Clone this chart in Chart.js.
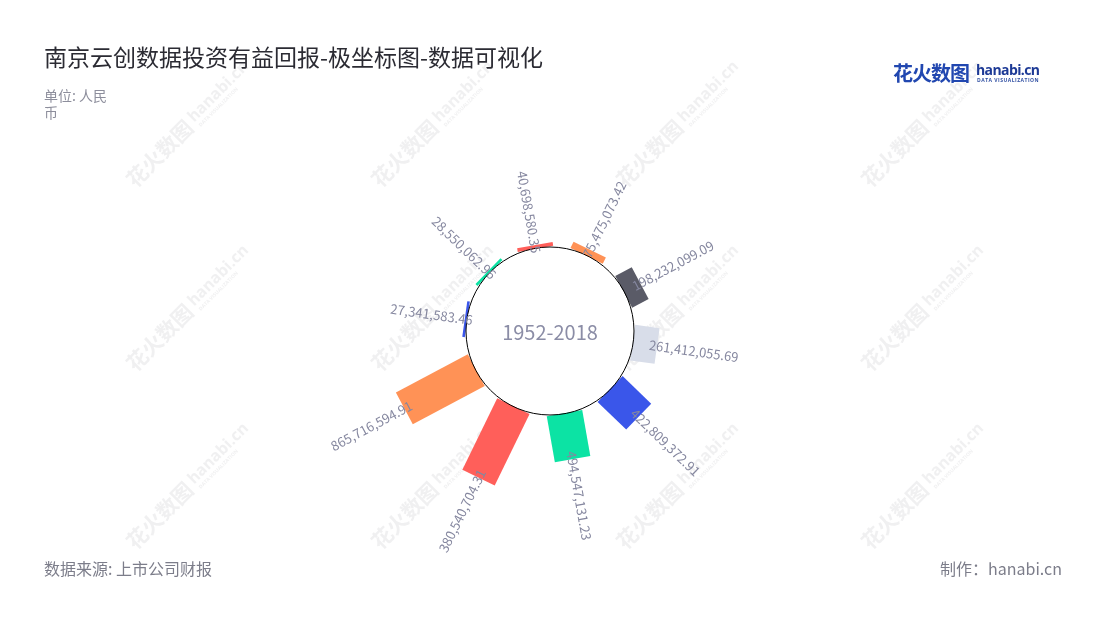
<!DOCTYPE html>
<html lang="zh-CN">
<head>
<meta charset="utf-8">
<title>南京云创数据投资有益回报-极坐标图-数据可视化</title>
<script src="https://cdn.jsdelivr.net/npm/chart.js@4.4.1/dist/chart.umd.min.js"></script>
<style>
  html, body { margin: 0; padding: 0; background: #fff; }
  body {
    width: 1100px; height: 620px; position: relative; overflow: hidden;
    font-family: "Noto Sans CJK SC", "Noto Sans", sans-serif;
  }
  #chart { position: absolute; left: 0; top: 0; }
  .title { position: absolute; left: 44px; top: 39px; font-size: 23px; color: #2b2b33; white-space: nowrap; }
  .unit { position: absolute; left: 44px; top: 87px; font-size: 14px; line-height: 17px; color: #8d8e9c; }
  .source { position: absolute; left: 44px; top: 556px; font-size: 16px; color: #7c7d8a; }
  .maker { position: absolute; right: 38px; top: 556px; font-size: 16px; color: #7c7d8a; }
  .logo { position: absolute; left: 893px; top: 58px; height: 30px; white-space: nowrap; }
  .logo .cn { position: absolute; left: 0; top: 0; font-size: 20px; font-weight: 700; color: #2147b0; letter-spacing: -1px; }
  .logo .en { position: absolute; left: 83px; top: 2px; font-family: "Open Sans", sans-serif; font-size: 14px; font-weight: 700; color: #1d3a96; letter-spacing: -0.6px; }
  .logo .sub { position: absolute; left: 84px; top: 19px; font-family: "Open Sans", sans-serif; font-size: 5px; font-weight: 700; color: #3150a3; letter-spacing: 0.5px; }
</style>
</head>
<body>
<canvas id="chart" width="1100" height="620"></canvas>

<div class="title">南京云创数据投资有益回报-极坐标图-数据可视化</div>
<div class="unit">单位: 人民<br>币</div>
<div class="logo">
  <span class="cn">花火数图</span>
  <span class="en">hanabi.cn</span>
  <span class="sub">DATA VISUALIZATION</span>
</div>
<div class="source">数据来源: 上市公司财报</div>
<div class="maker">制作：hanabi.cn</div>

<script>
// bars clockwise, starting just right of 12 o'clock
const valueLabels = [
  '75,475,073.42', '198,232,099.09', '261,412,055.69', '422,809,372.91', '494,547,131.23',
  '380,540,704.31', '865,716,594.91', '27,341,583.46', '28,550,062.96', '40,698,580.35'
];
// bar lengths (the red 380M bar is drawn about as long as the 865M one)
const values = [
  75475073.42, 198232099.09, 261412055.69, 422809372.91, 494547131.23,
  845000000, 865716594.91, 27341583.46, 28550062.96, 40698580.35
];
const barColors = [
  '#ff9256', '#5a5b67', '#d8dde9', '#3a56ea', '#0ce3a4',
  '#ff5f5a', '#ff9256', '#3a56ea', '#0ce3a4', '#ff5f5a'
];
const centerLabel = '1952-2018';

const BAR_WIDTH = 36;
const LABEL_FONT = '13px "Noto Sans CJK SC", "Noto Sans", sans-serif';
const LABEL_COLOR = '#85879f';

// faint repeated site watermark
function drawWatermarks(ctx) {
  const cols = [185, 430, 675, 920];
  const rows = [128, 312, 490];
  ctx.save();
  rows.forEach(y => cols.forEach(x => {
    ctx.save();
    ctx.translate(x, y);
    ctx.rotate(-Math.PI / 4);
    ctx.fillStyle = 'rgba(200, 200, 206, 0.28)';
    ctx.textBaseline = 'middle';
    ctx.textAlign = 'left';
    ctx.font = 'bold 21px "Noto Sans CJK SC", sans-serif';
    ctx.fillText('花火数图', -78, 0);
    ctx.font = 'bold 16px "Open Sans", sans-serif';
    ctx.fillText('hanabi.cn', 10, -2);
    ctx.font = 'bold 5px "Open Sans", sans-serif';
    ctx.fillText('DATA VISUALIZATION', 12, 9);
    ctx.restore();
  }));
  ctx.restore();
}

const polarBars = {
  id: 'polarBars',
  beforeDraw(chart) {
    drawWatermarks(chart.ctx);
  },
  beforeDatasetsDraw(chart) {
    const ctx = chart.ctx;
    const scale = chart.scales.r;
    const meta = chart.getDatasetMeta(0);
    const cx = scale.xCenter;
    const cy = scale.yCenter;
    const inner = scale.getDistanceFromCenterForValue(0);
    const ringR = inner + 0.5;

    ctx.save();
    ctx.beginPath();
    ctx.arc(cx, cy, ringR, 0, Math.PI * 2);
    ctx.fillStyle = '#fff';
    ctx.fill();

    // rectangles along each arc's middle angle
    meta.data.forEach(arc => {
      const a = (arc.startAngle + arc.endAngle) / 2;
      ctx.save();
      ctx.translate(cx, cy);
      ctx.rotate(a);
      ctx.fillStyle = arc.options.backgroundColor;
      ctx.fillRect(inner, -BAR_WIDTH / 2, arc.outerRadius - inner, BAR_WIDTH);
      ctx.restore();
    });

    ctx.beginPath();
    ctx.arc(cx, cy, ringR, 0, Math.PI * 2);
    ctx.lineWidth = 1;
    ctx.strokeStyle = '#000';
    ctx.stroke();

    // value labels, rotated along the radius
    ctx.font = LABEL_FONT;
    ctx.fillStyle = LABEL_COLOR;
    ctx.textBaseline = 'middle';
    meta.data.forEach((arc, i) => {
      const a = (arc.startAngle + arc.endAngle) / 2;
      const r = arc.outerRadius - 8;
      ctx.save();
      ctx.translate(cx, cy);
      if (Math.cos(a) >= 0) {
        ctx.rotate(a);
        ctx.textAlign = 'left';
        ctx.fillText(valueLabels[i], r, 0);
      } else {
        ctx.rotate(a + Math.PI);
        ctx.textAlign = 'right';
        ctx.fillText(valueLabels[i], -r, 0);
      }
      ctx.restore();
    });

    ctx.font = '20px "Noto Sans CJK SC", "Noto Sans", sans-serif';
    ctx.fillStyle = '#8b8da6';
    ctx.textAlign = 'center';
    ctx.fillText(centerLabel, cx, cy + 1);
    ctx.restore();
    return false;
  }
};

new Chart(document.getElementById('chart'), {
  type: 'polarArea',
  data: {
    labels: valueLabels,
    datasets: [{
      data: values,
      backgroundColor: barColors,
      borderWidth: 0
    }]
  },
  options: {
    responsive: false,
    animation: false,
    layout: {
      padding: { left: 380, right: 380, top: 161, bottom: 119 }
    },
    plugins: {
      legend: { display: false },
      tooltip: { enabled: false }
    },
    scales: {
      r: {
        min: -887000000,
        max: 919000000,
        startAngle: 8,
        grid: { display: false },
        angleLines: { display: false },
        ticks: { display: false },
        pointLabels: { display: false }
      }
    }
  },
  plugins: [polarBars]
});
</script>
</body>
</html>
